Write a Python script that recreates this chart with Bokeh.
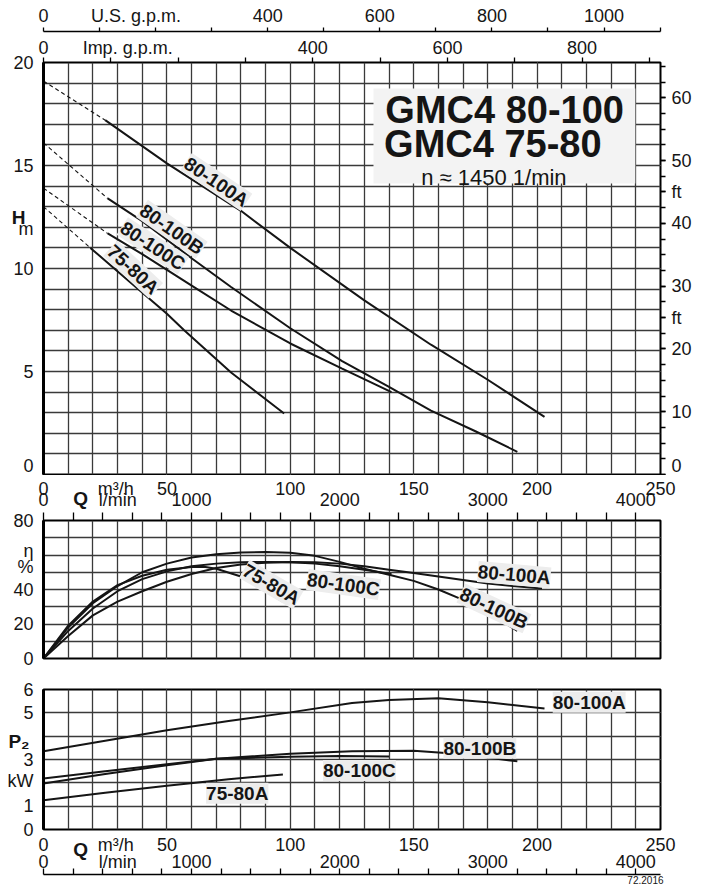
import numpy as np
from bokeh.plotting import figure
from bokeh.models import Range1d, LinearAxis, FixedTicker, Grid, Label, BoxAnnotation
from bokeh.layouts import column
from bokeh.embed import file_html
from bokeh.resources import INLINE

FONT = "Liberation Sans"
M3H_TO_LMIN = 1000 / 60
M3H_TO_USGPM = 4.40287
M3H_TO_IMPGPM = 3.66615
M_TO_FT = 1 / 0.3048

# ---------------- data (Q in m3/h) ----------------
models = ["80-100A", "80-100B", "80-100C", "75-80A"]
# Q-H: shut-off head (dashed start) and solid curve
h_shutoff = [19.1, 16.1, 13.9, 13.0]
qh_a_q = [25, 50, 80, 100, 130, 157, 180, 203]
qh_a_h = [17.2, 15.1, 12.8, 11.0, 8.45, 6.3, 4.6, 2.8]
qh_b_q = [26, 40, 60, 76, 100, 121, 140, 157, 175, 192]
qh_b_h = [13.4, 12.3, 10.5, 9.1, 7.1, 5.5, 4.25, 3.1, 2.1, 1.1]
qh_c_q = [26, 40, 61, 76, 100, 121, 141]
qh_c_h = [11.7, 10.7, 9.1, 7.96, 6.36, 5.14, 4.0]
qh_d_q = [19, 35, 50, 57, 76, 97.5]
qh_d_h = [11.0, 9.35, 7.8, 7.0, 4.95, 2.96]

# efficiency %
eta_a_q = [0, 10, 20, 30, 40, 50, 60, 70, 80, 90, 100, 110, 120, 130, 140, 150, 160, 170, 180, 190, 202]
eta_a = [0, 13, 25, 33, 39, 44.5, 49, 52.5, 54.5, 55.5, 56, 55.8, 55, 53.5, 51.5, 49.5, 47.5, 45.5, 43.5, 42, 40.6]
eta_b_q = [0, 10, 20, 30, 40, 50, 60, 70, 80, 90, 100, 110, 120, 130, 140, 150, 160, 170, 180, 192]
eta_b = [0, 18, 32, 42, 50, 55, 58.5, 60.5, 61.5, 61.7, 61.3, 59.5, 56, 52, 48.5, 45, 40, 34, 26.5, 16]
eta_c_q = [0, 10, 20, 30, 40, 50, 60, 70, 80, 90, 100, 110, 120, 130, 141]
eta_c = [0, 16, 29, 39, 46, 50.5, 53.5, 55, 55.8, 56, 55.8, 55, 53.5, 51.5, 49]
eta_d_q = [0, 10, 20, 30, 40, 50, 60, 65, 70, 80, 90, 97]
eta_d = [0, 19, 33, 42.5, 48, 51.5, 53, 53.2, 52, 47.5, 39, 33]

# shaft power P2 kW
p2_a_q = [0, 25, 50, 75, 100, 125, 140, 160, 180, 203]
p2_a = [3.35, 3.8, 4.25, 4.65, 5.02, 5.42, 5.55, 5.62, 5.45, 5.19]
p2_b_q = [0, 25, 50, 70, 100, 125, 150, 170, 192]
p2_b = [1.97, 2.38, 2.75, 3.03, 3.25, 3.35, 3.38, 3.22, 2.92]
p2_c_q = [0, 25, 50, 70, 100, 120, 140]
p2_c = [2.19, 2.5, 2.8, 3.03, 3.12, 3.15, 3.13]
p2_d_q = [0, 25, 50, 75, 97]
p2_d = [1.25, 1.58, 1.88, 2.15, 2.36]

q_ticks = [0, 50, 100, 150, 200, 250]
lmin_ticks = [0, 1000, 2000, 3000, 4000]
us_ticks = [0, 400, 600, 800, 1000]
imp_ticks = [0, 400, 600, 800]
h_ticks = [0, 5, 10, 15, 20]
ft_ticks = [0, 10, 20, 30, 40, 50, 60]
eta_ticks = [0, 20, 40, 80]
p2_ticks = [0, 1, 3, 5, 6]

# ---------------- styling helpers ----------------
GRID_C = "#3a3a3a"
LINE_C = "#151515"
TXT_C = "#151515"
LBL_BG = "#ededed"


def style_axis(ax, size="18px", bold=False, line=True):
    ax.major_label_text_font = FONT
    ax.major_label_text_font_size = size
    ax.major_label_text_font_style = "bold" if bold else "normal"
    ax.major_label_text_color = TXT_C
    ax.axis_line_color = "black" if line else None
    ax.major_tick_line_color = "black"
    ax.minor_tick_line_color = "black"
    ax.major_tick_line_width = 1.3
    ax.minor_tick_line_width = 1.3
    ax.major_tick_out = 0
    ax.major_tick_in = 0
    ax.minor_tick_out = 0
    ax.minor_tick_in = 0
    return ax


def base_fig(height, ymax, top, bottom):
    p = figure(width=701, height=height, x_range=Range1d(0, 250), y_range=Range1d(0, ymax),
               x_axis_location=None, y_axis_location=None, toolbar_location=None,
               output_backend="svg", min_border_left=43, min_border_right=41,
               min_border_top=top, min_border_bottom=bottom)
    p.outline_line_color = "black"
    p.outline_line_width = 2
    p.background_fill_color = "white"
    p.border_fill_color = "white"
    return p


def add_grid(p, xs, ys):
    p.add_layout(Grid(dimension=0, ticker=FixedTicker(ticks=xs), grid_line_color=GRID_C, grid_line_width=1.3))
    p.add_layout(Grid(dimension=1, ticker=FixedTicker(ticks=ys), grid_line_color=GRID_C, grid_line_width=1.3))


def left_axes(p, ticks, overrides, sym_pos, sym_text, sym_standoff):
    ax = LinearAxis(ticker=FixedTicker(ticks=ticks + list(overrides.keys())),
                    major_label_overrides=overrides)
    style_axis(ax)
    ax.major_label_standoff = 10
    ax.axis_line_width = 3
    p.add_layout(ax, "left")
    if sym_text:
        sx = LinearAxis(ticker=FixedTicker(ticks=[sym_pos]), major_label_overrides={sym_pos: sym_text})
        style_axis(sx, size="19px", bold=True, line=False)
        sx.major_label_standoff = sym_standoff
        p.add_layout(sx, "left")


def label_axis(p, where, ticks, overrides, standoff, range_name="default", size="18px", bold=False):
    ax = LinearAxis(x_range_name=range_name, ticker=FixedTicker(ticks=ticks + list(overrides.keys())),
                    major_label_overrides=overrides)
    style_axis(ax, size=size, bold=bold, line=False)
    ax.major_label_standoff = standoff
    p.add_layout(ax, where)
    return ax


def txt(p, x, y, text, size="19px", bold=True, angle=0, bg=None, align="center", baseline="middle"):
    lab = Label(x=x, y=y, text=text, text_font=FONT, text_font_size=size,
                text_font_style="bold" if bold else "normal", text_color=TXT_C,
                angle=angle, angle_units="deg", text_align=align, text_baseline=baseline,
                background_fill_color=bg, background_fill_alpha=1.0 if bg else 0.0)
    p.add_layout(lab)
    return lab


# ---------------- Figure 1: Q-H ----------------
p1 = base_fig(475, 20, 62, 1)
p1.extra_y_ranges = {"ft": Range1d(0, 20 * M_TO_FT)}
p1.extra_x_ranges = {"us": Range1d(0, 250 * M3H_TO_USGPM), "imp": Range1d(0, 250 * M3H_TO_IMPGPM)}
add_grid(p1, list(range(0, 251, 10)), list(range(0, 21)))
left_axes(p1, h_ticks, {11.9: "m"}, 12.5, "H", -15)

ft_ax = LinearAxis(y_range_name="ft",
                   ticker=FixedTicker(ticks=ft_ticks + [25, 45], minor_ticks=list(np.arange(0, 66, 2.5))),
                   major_label_overrides={25: "ft", 45: "ft"})
style_axis(ft_ax, line=False)
ft_ax.major_tick_out = 5
ft_ax.minor_tick_out = 5
ft_ax.major_label_standoff = 6
p1.add_layout(ft_ax, "right")

imp_ax = LinearAxis(x_range_name="imp",
                    ticker=FixedTicker(ticks=imp_ticks + [125], minor_ticks=list(range(0, 901, 100))),
                    major_label_overrides={125: "Imp. g.p.m."})
style_axis(imp_ax, line=False)
imp_ax.minor_tick_out = 5
imp_ax.major_label_standoff = 0
imp_ax.axis_label = " "
imp_ax.axis_label_text_font_size = "1px"
imp_ax.axis_label_standoff = -1
p1.add_layout(imp_ax, "above")

us_ax = LinearAxis(x_range_name="us",
                   ticker=FixedTicker(ticks=us_ticks + [165], minor_ticks=list(range(0, 1101, 100))),
                   major_label_overrides={165: "U.S. g.p.m."})
style_axis(us_ax)
us_ax.axis_line_width = 1.6
us_ax.minor_tick_out = 4
us_ax.major_label_standoff = 2
p1.add_layout(us_ax, "above")

qh_sets = [(qh_a_q, qh_a_h), (qh_b_q, qh_b_h), (qh_c_q, qh_c_h), (qh_d_q, qh_d_h)]
for h0, (qs, hs) in zip(h_shutoff, qh_sets):
    p1.line([0, qs[0]], [h0, hs[0]], line_color=LINE_C, line_width=1.1, line_dash="4 3")
    p1.line(qs, hs, line_color=LINE_C, line_width=2)

p1.add_layout(BoxAnnotation(left=133.7, right=239.8, top=18.74, bottom=14.13,
                            fill_color="#f3f3f3", fill_alpha=1.0, line_color=None))
txt(p1, 138.5, 17.68, "GMC4 80-100", size="38px", align="left")
txt(p1, 138.0, 16.02, "GMC4 75-80", size="38px", align="left")
txt(p1, 182.5, 14.4, "n \u2248 1450 1/min", size="22px", bold=False)

h_lbl = [(70.0, 14.2, -34), (52.0, 11.9, -35), (44.3, 11.1, -33), (36.3, 9.95, -43)]
for name, (x, y, a) in zip(models, h_lbl):
    txt(p1, x, y, name, angle=a, bg=LBL_BG)

# ---------------- Figure 2: efficiency ----------------
p2 = base_fig(195, 80, 43, 12)
p2.extra_x_ranges = {"lmin": Range1d(0, 250 * M3H_TO_LMIN)}
add_grid(p2, list(range(0, 251, 10)), list(range(0, 81, 10)))
left_axes(p2, eta_ticks, {62.3: "\u03b7", 53.1: "%"}, 0, None, 0)

lmin_ax = LinearAxis(x_range_name="lmin",
                     ticker=FixedTicker(ticks=lmin_ticks + [501], minor_ticks=list(range(0, 4001, 200))),
                     major_label_overrides={501: "l/min"})
style_axis(lmin_ax, line=False)
lmin_ax.minor_tick_out = 8
lmin_ax.major_label_standoff = 3
p2.add_layout(lmin_ax, "above")
label_axis(p2, "above", [], {15.0: "Q"}, -22, size="19px", bold=True)
label_axis(p2, "above", q_ticks, {29.3: "m\u00b3/h"}, -14)

eta_sets = [(eta_a_q, eta_a), (eta_b_q, eta_b), (eta_c_q, eta_c), (eta_d_q, eta_d)]
for qs, es in eta_sets:
    p2.line(qs, es, line_color=LINE_C, line_width=2)

eta_lbl = [(190.7, 48.6, -5), (182.5, 29.1, -25), (121.5, 42.9, -8), (92.3, 42.9, -30)]
for name, (x, y, a) in zip(models, eta_lbl):
    txt(p2, x, y, name, angle=a, bg=LBL_BG)

# ---------------- Figure 3: P2 ----------------
p3 = base_fig(221, 6, 19, 62)
p3.extra_x_ranges = {"lmin": Range1d(0, 250 * M3H_TO_LMIN)}
add_grid(p3, list(range(0, 251, 10)), list(range(0, 7)))
left_axes(p3, p2_ticks, {2.06: "kW"}, 3.78, "P\u2082", -25)

label_axis(p3, "below", q_ticks, {29.3: "m\u00b3/h"}, 5)
label_axis(p3, "below", [], {15.0: "Q"}, -19, size="19px", bold=True)
label_axis(p3, "below", lmin_ticks, {501: "l/min"}, -11, range_name="lmin")

stamp_pos = 243.9 * M3H_TO_LMIN
lmin_line = LinearAxis(x_range_name="lmin",
                       ticker=FixedTicker(ticks=[stamp_pos], minor_ticks=list(range(0, 4001, 200))),
                       major_label_overrides={stamp_pos: "72.2016"})
style_axis(lmin_line, size="10px")
lmin_line.axis_line_width = 1.6
lmin_line.minor_tick_in = 6
lmin_line.major_label_standoff = 1
p3.add_layout(lmin_line, "below")

p2_sets = [(p2_a_q, p2_a), (p2_b_q, p2_b), (p2_c_q, p2_c), (p2_d_q, p2_d)]
for qs, ps in p2_sets:
    p3.line(qs, ps, line_color=LINE_C, line_width=2)

p2_lbl = [(221.1, 5.45), (176.8, 3.48), (128.0, 2.53), (78.5, 1.55)]
for name, (x, y) in zip(models, p2_lbl):
    txt(p3, x, y, name, bg=LBL_BG)

layout = column(p1, p2, p3, spacing=0)
open("out.html", "w").write(file_html(layout, INLINE))
